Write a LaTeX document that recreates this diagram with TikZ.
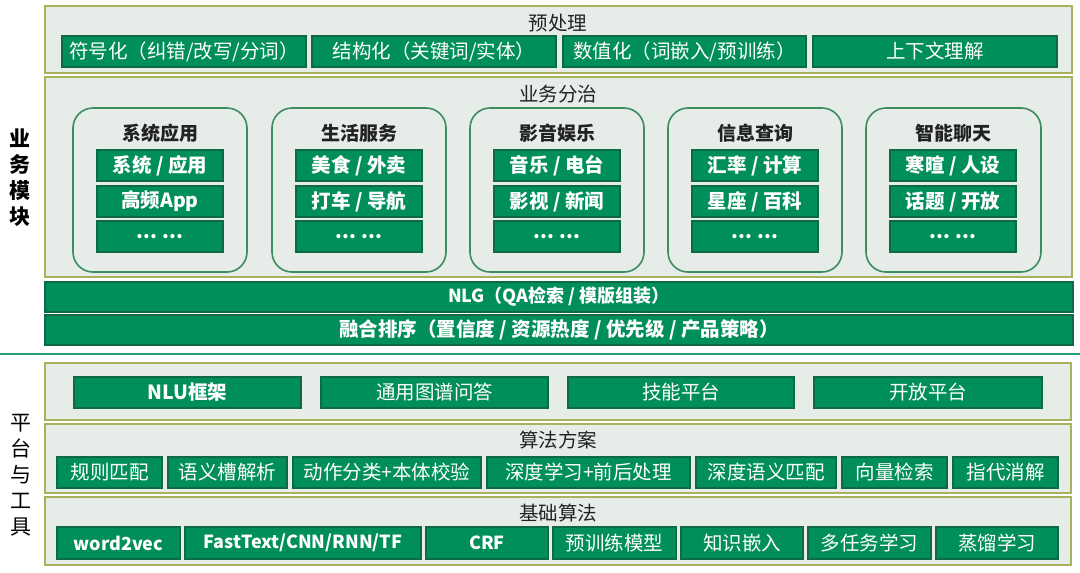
\documentclass[tikz,border=0pt]{standalone}
\usepackage{fontspec}
\setmainfont{Noto Sans CJK SC}
\begin{document}
\begin{tikzpicture}[x=1pt,y=-1pt,
  gbox/.style={draw=gdark, fill=gfill, line width=1.3pt, text=white, inner sep=0pt, font=\fontsize{19.5}{22}\selectfont},
  gboxb/.style={gbox, font=\fontsize{19.5}{22}\selectfont\bfseries},
  gboxs/.style={gbox, font=\fontsize{18}{22}\selectfont\bfseries},
  panel/.style={draw=olive2, fill=pfill, line width=1.6pt, inner sep=0pt},
  rbox/.style={draw=rgreen, fill=pfill, line width=1.6pt, rounded corners=20pt, inner sep=0pt},
  ttl/.style={text=tdark, font=\fontsize{19.5}{22}\selectfont, inner sep=0pt},
  ttlb/.style={text=tdark, font=\fontsize{19}{22}\selectfont\bfseries, inner sep=0pt},
  side/.style={text=black, align=center, inner sep=0pt, font=\fontsize{21}{26}\selectfont\bfseries},
  sep/.style={draw=sepgreen, line width=2pt}]
\definecolor{gfill}{HTML}{008F5A}
\definecolor{gdark}{HTML}{0E6A42}
\definecolor{pfill}{HTML}{E6EDE8}
\definecolor{olive2}{HTML}{A8B25A}
\definecolor{rgreen}{HTML}{3D8C5E}
\definecolor{tdark}{HTML}{222222}
\definecolor{sepgreen}{HTML}{22A073}
\newcommand\bx[7]{\node[#1, minimum width={(#5-#3)*1pt}, minimum height={(#6-#4)*1pt}] (#2) at ({(#3+#5)/2},{(#4+#6)/2}) {#7};}
\useasboundingbox (0,0) rectangle (1080,573);
\fill[white] (0,0) rectangle (1080,573);

% ---------- preprocessing ----------
\bx{panel}{pre}{45}{6}{1072}{73}{}
\node[ttl] (preT) at (558,23) {预处理};
\bx{gbox}{p1}{62}{36}{306}{67}{符号化（纠错/改写/分词）}
\bx{gbox}{p2}{312}{36}{556}{67}{结构化（关键词/实体）}
\bx{gbox}{p3}{563}{36}{806}{67}{数值化（词嵌入/预训练）}
\bx{gbox}{p4}{813}{36}{1057}{67}{上下文理解}

% ---------- business ----------
\bx{panel}{biz}{45}{77}{1072}{277}{}
\node[ttl] (bizT) at (558,94) {业务分治};

\bx{rbox}{r1}{73}{108}{247}{272}{}
\node[ttlb] (r1t) at (160,133) {系统应用};
\bx{gboxb}{r1a}{97}{150}{223}{181}{系统 / 应用}
\bx{gboxb}{r1b}{97}{186}{223}{217}{高频App}
\bx{gboxb}{r1c}{97}{221}{223}{252}{... ...}

\bx{rbox}{r2}{272}{108}{446}{272}{}
\node[ttlb] (r2t) at (359,133) {生活服务};
\bx{gboxb}{r2a}{296}{150}{422}{181}{美食 / 外卖}
\bx{gboxb}{r2b}{296}{186}{422}{217}{打车 / 导航}
\bx{gboxb}{r2c}{296}{221}{422}{252}{... ...}

\bx{rbox}{r3}{470}{108}{644}{272}{}
\node[ttlb] (r3t) at (557,133) {影音娱乐};
\bx{gboxb}{r3a}{494}{150}{620}{181}{音乐 / 电台}
\bx{gboxb}{r3b}{494}{186}{620}{217}{影视 / 新闻}
\bx{gboxb}{r3c}{494}{221}{620}{252}{... ...}

\bx{rbox}{r4}{668}{108}{842}{272}{}
\node[ttlb] (r4t) at (755,133) {信息查询};
\bx{gboxb}{r4a}{692}{150}{818}{181}{汇率 / 计算}
\bx{gboxb}{r4b}{692}{186}{818}{217}{星座 / 百科}
\bx{gboxb}{r4c}{692}{221}{818}{252}{... ...}

\bx{rbox}{r5}{866}{108}{1041}{272}{}
\node[ttlb] (r5t) at (953,133) {智能聊天};
\bx{gboxb}{r5a}{890}{150}{1016}{181}{寒暄 / 人设}
\bx{gboxb}{r5b}{890}{186}{1016}{217}{话题 / 开放}
\bx{gboxb}{r5c}{890}{221}{1016}{252}{... ...}

\bx{gboxs}{nlg}{45}{282}{1073}{312}{NLG（QA检索 / 模版组装）}
\bx{gboxb}{rank}{45}{315}{1073}{345}{融合排序（置信度 / 资源热度 / 优先级 / 产品策略）}

\node[side] (lblBiz) at (20,178) {业\\务\\模\\块};

% ---------- separator ----------
\coordinate (sepL) at (0,354);
\coordinate (sepR) at (1080,354);
\draw[sep] (sepL) -- (sepR);

% ---------- platform ----------
\bx{panel}{plat}{45}{363}{1071}{420}{}
\bx{gboxb}{q1}{74}{377}{301}{408}{NLU框架}
\bx{gbox}{q2}{321}{377}{548}{408}{通用图谱问答}
\bx{gbox}{q3}{568}{377}{794}{408}{技能平台}
\bx{gbox}{q4}{814}{377}{1042}{408}{开放平台}

\bx{panel}{algo}{45}{424}{1071}{493}{}
\node[ttl] (algoT) at (558,440) {算法方案};
\bx{gbox}{a1}{57}{457}{162}{488}{规则匹配}
\bx{gbox}{a2}{168}{457}{287}{488}{语义槽解析}
\bx{gbox}{a3}{293}{457}{481}{488}{动作分类+本体校验}
\bx{gbox}{a4}{487}{457}{690}{488}{深度学习+前后处理}
\bx{gbox}{a5}{696}{457}{836}{488}{深度语义匹配}
\bx{gbox}{a6}{842}{457}{947}{488}{向量检索}
\bx{gbox}{a7}{953}{457}{1058}{488}{指代消解}

\bx{panel}{base}{45}{497}{1071}{565}{}
\node[ttl] (baseT) at (558,513) {基础算法};
\bx{gboxs}{b1}{57}{527}{180}{559}{word2vec}
\bx{gboxs}{b2}{185}{527}{421}{559}{FastText/CNN/RNN/TF}
\bx{gboxs}{b3}{426}{527}{548}{559}{CRF}
\bx{gbox}{b4}{553}{527}{676}{559}{预训练模型}
\bx{gbox}{b5}{681}{527}{803}{559}{知识嵌入}
\bx{gbox}{b6}{808}{527}{931}{559}{多任务学习}
\bx{gbox}{b7}{936}{527}{1058}{559}{蒸馏学习}

\node[side, font=\fontsize{21}{26}\selectfont] (lblPlat) at (21,475) {平\\台\\与\\工\\具};
\end{tikzpicture}
\end{document}
